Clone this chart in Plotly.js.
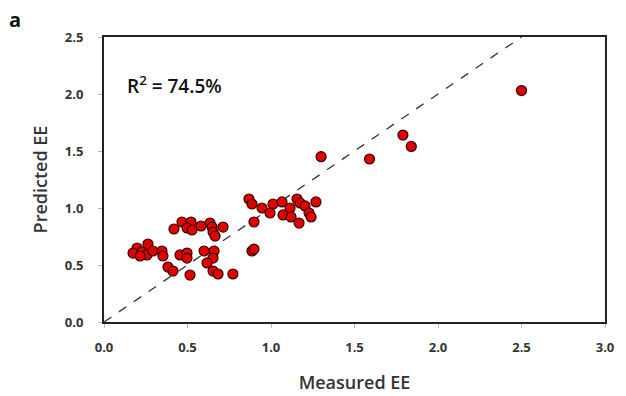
<!DOCTYPE html>
<html><head><meta charset="utf-8">
<script src="https://cdn.plot.ly/plotly-3.0.1.min.js"></script>
<style>html,body{margin:0;padding:0;background:#fff}</style>
</head><body><div id="chart" style="width:626px;height:396px"></div>
<script>
const measured = [2.50,1.79,1.84,1.59,1.30,
 0.868,0.886,0.946,1.012,0.994,0.898,0.886,0.898,
 0.467,0.521,0.419,0.497,0.527,0.581,0.635,0.647,0.653,0.665,0.713,
 0.198,0.174,0.228,0.263,0.257,0.293,0.347,0.353,0.216,
 0.455,0.497,0.497,0.599,0.659,0.653,0.617,
 0.383,0.413,0.515,0.653,0.683,0.772,
 1.066,1.156,1.174,1.114,1.072,1.12,1.204,1.228,1.240,1.168,1.269];
const predicted = [2.03,1.64,1.54,1.43,1.45,
 1.079,1.035,1.0,1.035,0.956,0.877,0.623,0.64,
 0.877,0.877,0.816,0.825,0.807,0.842,0.868,0.833,0.789,0.754,0.833,
 0.649,0.605,0.614,0.684,0.588,0.623,0.623,0.579,0.579,
 0.588,0.605,0.561,0.623,0.623,0.561,0.518,
 0.482,0.447,0.412,0.447,0.421,0.421,
 1.053,1.079,1.044,1.0,0.939,0.921,1.018,0.956,0.921,0.868,1.053];
const identityX = [0, 2.5];
const identityY = [0, 2.5];
const tickVals = [0,0.5,1.0,1.5,2.0,2.5,3.0];
const tickText = ['0.0','0.5','1.0','1.5','2.0','2.5','3.0'];
const xTitle = 'Measured EE';
const yTitle = 'Predicted EE';
const r2Text = 'R<sup>2</sup> = 74.5%';
const panelLabel = 'a';

const tickFont = {family:'Open Sans, sans-serif', size:13, color:'#333', weight:'bold'};
const titleFont = {family:'Open Sans, sans-serif', size:18, color:'#333', weight:600};

const traces = [
 {x: identityX, y: identityY, mode:'lines', line:{color:'#333', width:1.3, dash:'dash'}, hoverinfo:'skip'},
 {x: measured, y: predicted, mode:'markers', marker:{color:'#e00000', size:10, line:{color:'#3a0000', width:1.2}}}
];
const layout = {
 width:626, height:396, showlegend:false,
 paper_bgcolor:'#fff', plot_bgcolor:'#fff',
 margin:{l:104, r:21, t:37, b:74},
 xaxis:{range:[0,3], tickvals:tickVals, ticktext:tickText, showgrid:false, zeroline:false,
   showline:true, mirror:true, linecolor:'#222', linewidth:2,
   ticks:'outside', ticklen:4, tickcolor:'#bbb', tickfont:tickFont, ticklabelstandoff:8,
   title:{text:xTitle, font:titleFont, standoff:22}},
 yaxis:{range:[0,2.5], tickvals:tickVals.slice(0,6), ticktext:tickText.slice(0,6), showgrid:false, zeroline:false,
   showline:true, mirror:true, linecolor:'#222', linewidth:2,
   ticks:'outside', ticklen:4, tickcolor:'#bbb', tickfont:tickFont, ticklabelstandoff:12,
   title:{text:yTitle, font:titleFont, standoff:13}},
 annotations:[
  {x:0.126, y:2.08, xref:'x', yref:'y', xanchor:'left', yanchor:'middle', showarrow:false,
   text:r2Text, font:{family:'Open Sans, sans-serif', size:19, color:'#111', weight:600}},
  {x:-0.178, y:1.06, xref:'paper', yref:'paper', xanchor:'center', yanchor:'middle', showarrow:false,
   text:panelLabel, font:{family:'Open Sans, sans-serif', size:20, color:'#111', weight:'bold'}}
 ]
};
Plotly.newPlot('chart', traces, layout, {displayModeBar:false, staticPlot:true});
</script></body></html>
